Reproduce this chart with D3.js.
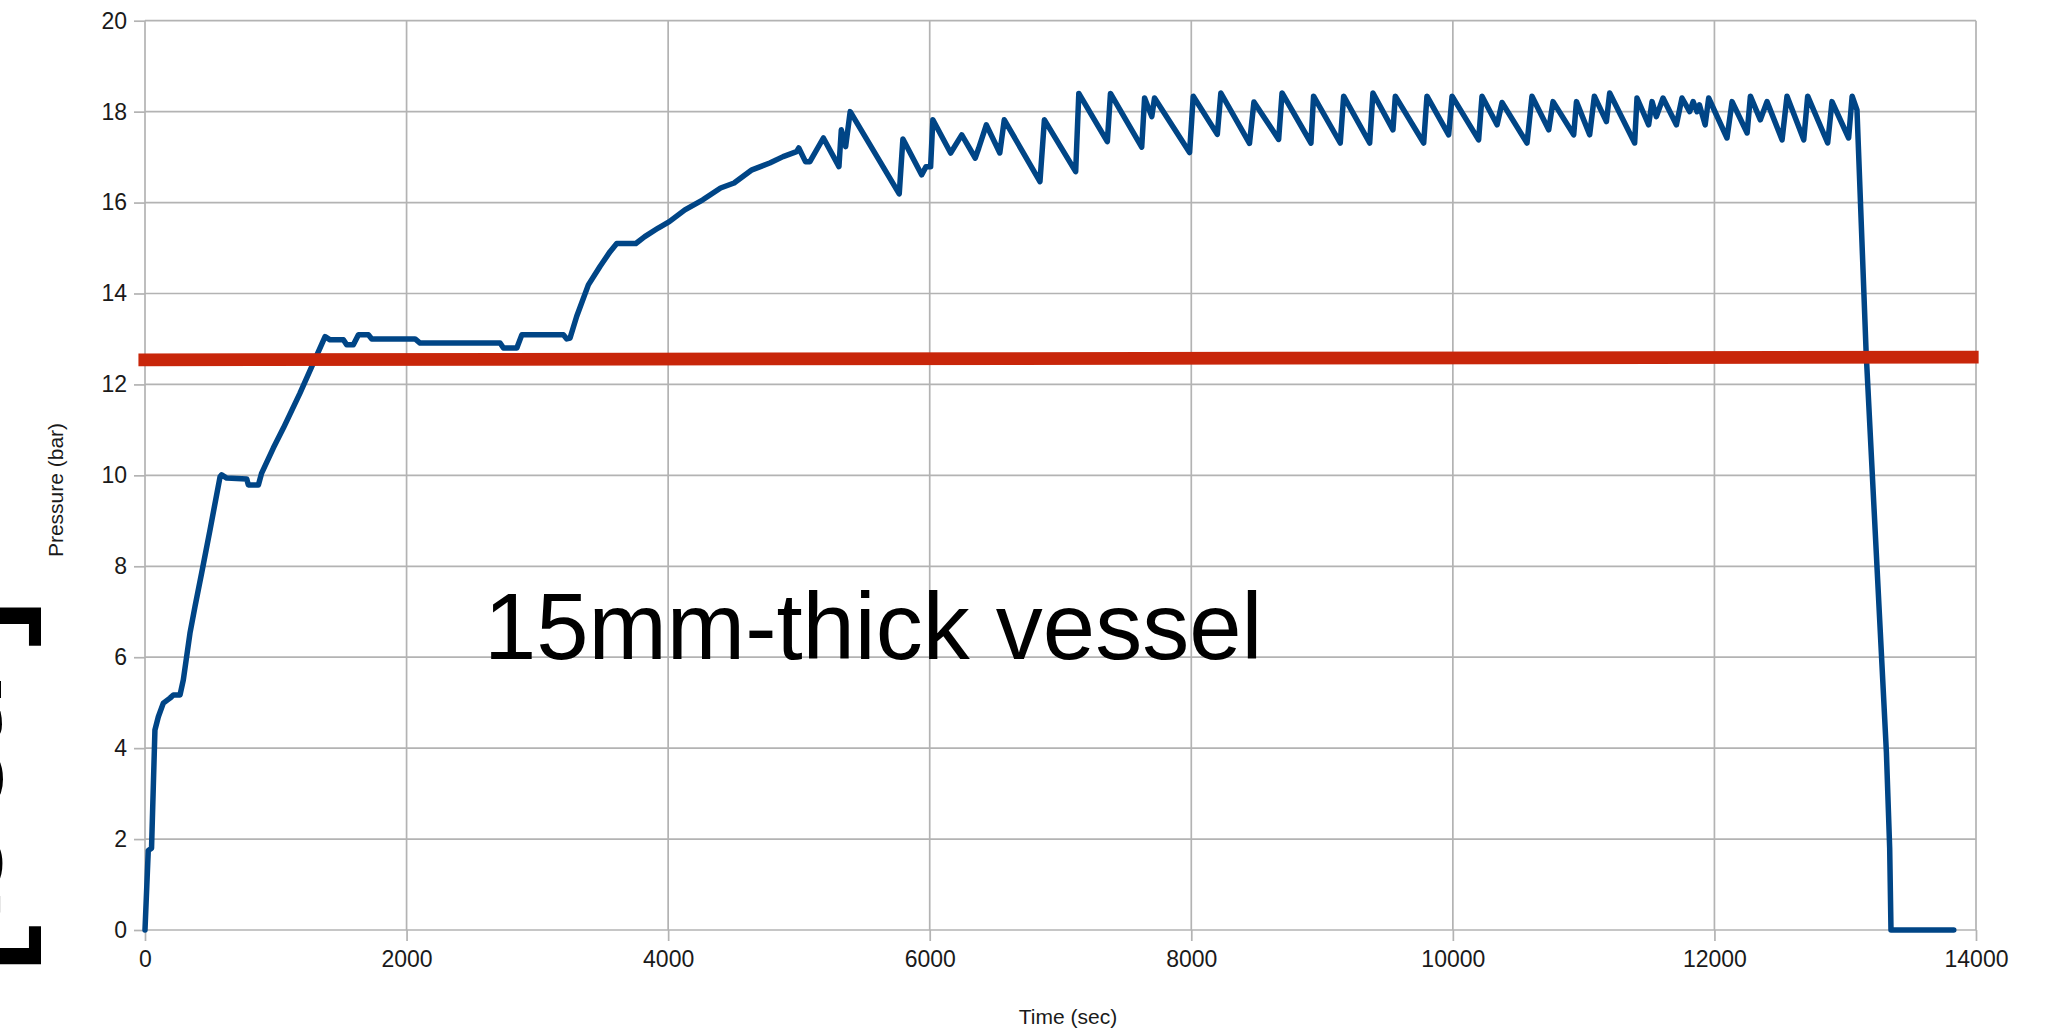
<!DOCTYPE html>
<html>
<head>
<meta charset="utf-8">
<script src="https://cdn.jsdelivr.net/npm/d3@7"></script>
<style>
  body { margin: 0; background: #fff; }
  svg text { font-family: "Liberation Sans", Arial, sans-serif; }
</style>
</head>
<body>
<div id="chart"></div>
<script>
// pressure log of the vessel test
const timeSec = [
  0, 25, 50, 76, 102, 140, 191, 217, 268, 293, 344, 382, 433, 497, 574, 586, 625, 778, 790, 867,
  892, 981, 1058, 1185, 1275, 1377, 1415, 1517, 1542, 1593, 1632, 1708, 1734, 2065, 2103, 2715,
  2741, 2843, 2881, 3199, 3225, 3250, 3301, 3390, 3480, 3556, 3607, 3753, 3821, 3924, 4009, 4128,
  4265, 4401, 4504, 4641, 4777, 4879, 4982, 4999, 5050, 5084, 5187, 5306, 5324, 5357, 5392, 5767,
  5795, 5938, 5972, 6007, 6024, 6160, 6245, 6348, 6375, 6433, 6536, 6570, 6843, 6877, 7116, 7140,
  7358, 7382, 7621, 7643, 7698, 7719, 7987, 8015, 8199, 8226, 8445, 8479, 8668, 8694, 8915, 8935,
  9139, 9165, 9364, 9389, 9542, 9560, 9777, 9802, 9968, 9994, 10197, 10223, 10338, 10376, 10567,
  10605, 10733, 10766, 10924, 10945, 11046, 11082, 11174, 11199, 11390, 11408, 11497, 11523, 11556,
  11607, 11709, 11752, 11811, 11837, 11867, 11885, 11929, 11956, 12096, 12135, 12250, 12275, 12351,
  12402, 12517, 12555, 12683, 12713, 12866, 12899, 13026, 13053, 13090, 13160, 13315, 13340, 13350,
  13830
];
const pressureBar = [
  0, 1.75, 1.8, 4.4, 4.69, 4.99, 5.1, 5.17, 5.17, 5.5, 6.53, 7.11, 7.85, 8.8, 9.97, 10.01, 9.94, 9.92, 9.79, 9.79,
  10.05, 10.6, 11.04, 11.81, 12.39, 13.05, 12.98, 12.98, 12.87, 12.87, 13.09, 13.09, 13.0, 13.0, 12.91, 12.91,
  12.8, 12.8, 13.09, 13.09, 13.0, 13.02, 13.5, 14.19, 14.6, 14.92, 15.1, 15.1, 15.25, 15.44, 15.58, 15.84,
  16.06, 16.32, 16.43, 16.72, 16.87, 17.01, 17.12, 17.2, 16.9, 16.9, 17.42, 16.79, 17.6, 17.23, 18.0, 16.19,
  17.4, 16.61, 16.79, 16.79, 17.82, 17.09, 17.49, 16.98, 17.2, 17.71, 17.09, 17.82, 16.46, 17.82, 16.68, 18.4,
  17.34, 18.4, 17.22, 18.3, 17.89, 18.3, 17.1, 18.34, 17.5, 18.41, 17.3, 18.21, 17.39, 18.41, 17.31, 18.34,
  17.31, 18.34, 17.31, 18.41, 17.6, 18.34, 17.31, 18.34, 17.49, 18.34, 17.38, 18.34, 17.71, 18.2, 17.31,
  18.34, 17.6, 18.22, 17.49, 18.22, 17.49, 18.34, 17.78, 18.41, 17.31, 18.3, 17.71, 18.22, 17.89,
  18.3, 17.71, 18.3, 18.0, 18.22, 18.0, 18.15, 17.71, 18.3, 17.42, 18.22, 17.53, 18.34, 17.82,
  18.22, 17.38, 18.34, 17.38, 18.34, 17.31, 18.22, 17.42, 18.34, 18.04, 12.7, 3.9, 1.8, 0,
  0
];

// hand drawn limit line over the chart
const limitTime = [-50, 14020];
const limitBar = [12.54, 12.6];

const xTicks = [0, 2000, 4000, 6000, 8000, 10000, 12000, 14000];
const yTicks = [0, 2, 4, 6, 8, 10, 12, 14, 16, 18, 20];

const xLabel = "Time (sec)";
const yLabel = "Pressure (bar)";
const noteText = "15mm-thick vessel";
const unitText = "[bar]";

const width = 2050;
const height = 1034;
const plotLeft = 145, plotRight = 1976, plotTop = 20.7, plotBottom = 930;

const svg = d3.select("#chart")
  .append("svg")
  .attr("width", width)
  .attr("height", height);

svg.append("rect").attr("width", width).attr("height", height).attr("fill", "#fff");

const x = d3.scaleLinear().domain([0, 14000]).range([plotLeft, plotRight]);
const y = d3.scaleLinear().domain([0, 20]).range([plotBottom, plotTop]);

const gridColor = "#b3b3b3";

// gridlines
svg.append("g")
  .selectAll("line")
  .data(xTicks)
  .enter()
  .append("line")
  .attr("x1", d => x(d)).attr("x2", d => x(d))
  .attr("y1", plotTop).attr("y2", plotBottom)
  .attr("stroke", gridColor).attr("stroke-width", 1.7);

svg.append("g")
  .selectAll("line")
  .data(yTicks)
  .enter()
  .append("line")
  .attr("x1", plotLeft).attr("x2", plotRight)
  .attr("y1", d => y(d)).attr("y2", d => y(d))
  .attr("stroke", gridColor).attr("stroke-width", 1.7);

// axes: outward ticks and labels
const xAxis = svg.append("g")
  .attr("transform", `translate(0,${plotBottom})`)
  .call(d3.axisBottom(x).tickValues(xTicks).tickFormat(d3.format("d")).tickSize(11).tickPadding(10));

const yAxis = svg.append("g")
  .attr("transform", `translate(${plotLeft},0)`)
  .call(d3.axisLeft(y).tickValues(yTicks).tickFormat(d3.format("d")).tickSize(11).tickPadding(7));

[xAxis, yAxis].forEach(g => {
  g.select(".domain").remove();
  g.selectAll(".tick line").attr("stroke", gridColor).attr("stroke-width", 1.7);
  g.selectAll(".tick text")
    .attr("fill", "#1a1a1a")
    .style("font-size", "23px");
});

// axis titles
svg.append("text")
  .attr("x", 1068).attr("y", 1017)
  .attr("dy", "0.35em")
  .attr("text-anchor", "middle")
  .attr("fill", "#1a1a1a")
  .style("font-size", "21px")
  .text(xLabel);

svg.append("text")
  .attr("transform", "translate(56,490) rotate(-90)")
  .attr("dy", "0.35em")
  .attr("text-anchor", "middle")
  .attr("fill", "#1a1a1a")
  .style("font-size", "21px")
  .text(yLabel);

// the pressure trace
const points = timeSec.map((t, i) => [t, pressureBar[i]]);
const line = d3.line().x(d => x(d[0])).y(d => y(d[1]));

svg.append("path")
  .datum(points)
  .attr("d", line)
  .attr("fill", "none")
  .attr("stroke", "#004586")
  .attr("stroke-width", 5.5)
  .attr("stroke-linejoin", "round")
  .attr("stroke-linecap", "round");

// red limit line
svg.append("path")
  .datum(limitTime.map((t, i) => [t, limitBar[i]]))
  .attr("d", line)
  .attr("fill", "none")
  .attr("stroke", "#c8260a")
  .attr("stroke-width", 12.7);

// overlay annotations
svg.append("text")
  .attr("x", 484).attr("y", 659)
  .attr("fill", "#000")
  .style("font-size", "94px")
  .text(noteText);

svg.append("text")
  .attr("transform", "translate(1,786) rotate(-90)")
  .attr("text-anchor", "middle")
  .attr("fill", "#000")
  .style("font-size", "192px")
  .text(unitText);
</script>
</body>
</html>
